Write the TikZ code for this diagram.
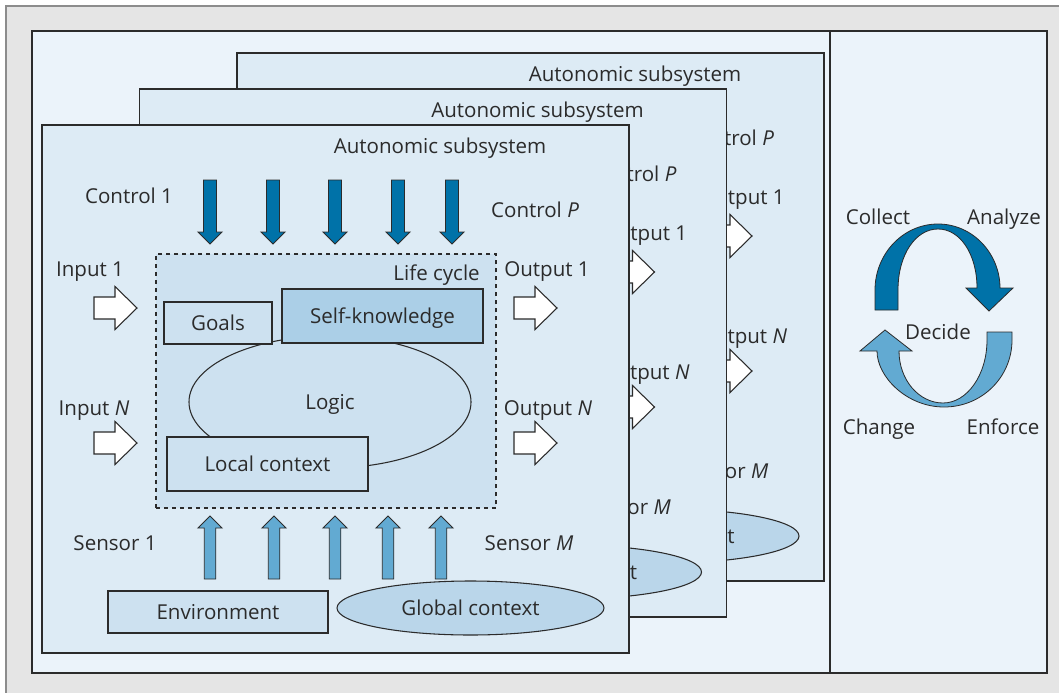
\documentclass[tikz,border=0pt]{standalone}
\usepackage{fontspec}
\setmainfont{Open Sans}
\usetikzlibrary{shapes.geometric}
\definecolor{ink}{HTML}{2B2B2B}
\definecolor{frame}{HTML}{E5E5E5}
\definecolor{frameline}{HTML}{8C8C8C}
\definecolor{panel}{HTML}{EBF3FA}
\definecolor{subsys}{HTML}{DDEBF5}
\definecolor{cycle}{HTML}{CDE1F0}
\definecolor{knowledge}{HTML}{ABCFE7}
\definecolor{globalctx}{HTML}{BAD6EA}
\definecolor{control}{HTML}{0072A8}
\definecolor{sensor}{HTML}{62AAD2}

\begin{document}
\begin{tikzpicture}[x=0.75pt,y=-0.75pt,
  font=\fontsize{15.4}{18}\selectfont,
  lbl/.style={text=ink,inner sep=0pt,text height=11pt,text depth=0pt},
  subbox/.style={draw=ink,fill=subsys,line width=0.9pt,minimum width=440.25pt,minimum height=396pt},
  part/.style={lbl,draw=ink,fill=cycle,line width=0.8pt},
  oval/.style={lbl,ellipse,draw=ink,line width=0.8pt},
  ioarrow/.style={draw=ink,fill=white,line width=0.8pt},
  ctrlarrow/.style={draw=ink,fill=control,line width=0.7pt},
  sensearrow/.style={draw=ink,fill=sensor,line width=0.7pt},
  io/.pic={\draw[ioarrow] (0,-11) -- (21,-11) -- (21,-21.5) -- (43,0) -- (21,21.5) -- (21,11) -- (0,11) -- cycle;},
  ctrl/.pic={\draw[ctrlarrow] (-6.5,0) -- (-6.5,52) -- (-12,52) -- (0,64) -- (12,52) -- (6.5,52) -- (6.5,0) -- cycle;},
  sense/.pic={\draw[sensearrow] (-5.75,0) -- (-5.75,-51) -- (-12,-51) -- (0,-63) -- (12,-51) -- (5.75,-51) -- (5.75,0) -- cycle;}
]
\useasboundingbox (0,0) rectangle (1059,692);

% frame and panels
\fill[frame] (6,6) rectangle (1070,700);
\draw[frameline,line width=1.1pt] (6,700) -- (6,6) -- (1070,6);
\draw[ink,fill=panel,line width=1.1pt] (32,31) rectangle (1047,673);
\draw[ink,line width=1.1pt] (830,31) -- (830,673);

% three stacked autonomic subsystems, back to front
% (the back ones only get what still shows past the box in front)
\foreach \i in {2,1,0}{
\begin{scope}[shift={(\i*97.5,-\i*36)}]
  \node[subbox] (sub\i) at (335.5,389) {};
  \node[lbl] (title\i) at (440,146) {Autonomic subsystem};
  \node[lbl] (ctrlP\i) at (535,210) {Control \textit{P}};
  \node[lbl] (outA\i) at (547,269) {Output 1};
  \node[lbl] (outN\i) at (548,408) {Output \textit{N}};
  \pic at (514,308) {io};
  \pic at (514,443) {io};
  \node[lbl] (sensM\i) at (529,543) {Sensor \textit{M}};
  \node[oval,fill=globalctx,minimum width=200.25pt,minimum height=40.5pt] (glob\i) at (470.5,608) {Global context};

  \ifnum\i=0
  \node[lbl] (ctrlA\i) at (129,196) {Control 1};
  \foreach \x in {210,273,335,398,452}
    \pic at (\x,180) {ctrl};

  \node[lbl] (inA\i) at (90,269) {Input 1};
  \node[lbl] (inN\i) at (94,408) {Input \textit{N}};
  \pic at (94,308) {io};
  \pic at (94,443) {io};

  \node[draw=ink,dashed,fill=cycle,line width=0.8pt,minimum width=255pt,minimum height=190.5pt] (life\i) at (326,381) {};
  \node[lbl,anchor=east] (lifelbl\i) at (480,273) {Life cycle};
  \node[oval,minimum width=211.5pt,minimum height=99pt] (logic\i) at (330,402) {Logic};
  \node[part,minimum width=81pt,minimum height=31.5pt] (goals\i) at (218,323) {Goals};
  \node[part,fill=knowledge,minimum width=150.75pt,minimum height=40.5pt] (self\i) at (382.5,316) {Self-knowledge};
  \node[part,minimum width=150.75pt,minimum height=40.5pt] (local\i) at (267.5,464) {Local context};

  \node[lbl] (sensA\i) at (115,543) {Sensor 1};
  \foreach \x in {210,274,335,388,441}
    \pic at (\x,579) {sense};

  \node[part,minimum width=165pt,minimum height=31.5pt] (env\i) at (218,612) {Environment};
  \fi
\end{scope}
}

% control loop
\draw[ink,fill=control,line width=0.6pt] (875,310) -- (875,290) .. controls (875,254) and (903,224) .. (938,224)
  .. controls (973,224) and (1000,254) .. (1000,288) -- (1013,288) -- (989,311) -- (966,288) -- (977,288)
  .. controls (977,254) and (960,229) .. (938,229) .. controls (916,229) and (898,254) .. (898,290) -- (898,310) -- cycle;
\draw[ink,fill=sensor,line width=0.6pt] (1012,332) -- (1012,340) .. controls (1012,377) and (982,407) .. (944,407)
  .. controls (907,407) and (877,377) .. (877,351) -- (860,351) -- (885,330) -- (912,351) -- (899,351)
  .. controls (899,380) and (919,403) .. (943,403) .. controls (967,403) and (987,375) .. (987,340) -- (987,332) -- cycle;

\node[lbl] (collect) at (878,217) {Collect};
\node[lbl] (analyze) at (1004,217) {Analyze};
\node[lbl] (decide) at (938,332) {Decide};
\node[lbl] (change) at (879,427) {Change};
\node[lbl] (enforce) at (1003,427) {Enforce};
\end{tikzpicture}
\end{document}
